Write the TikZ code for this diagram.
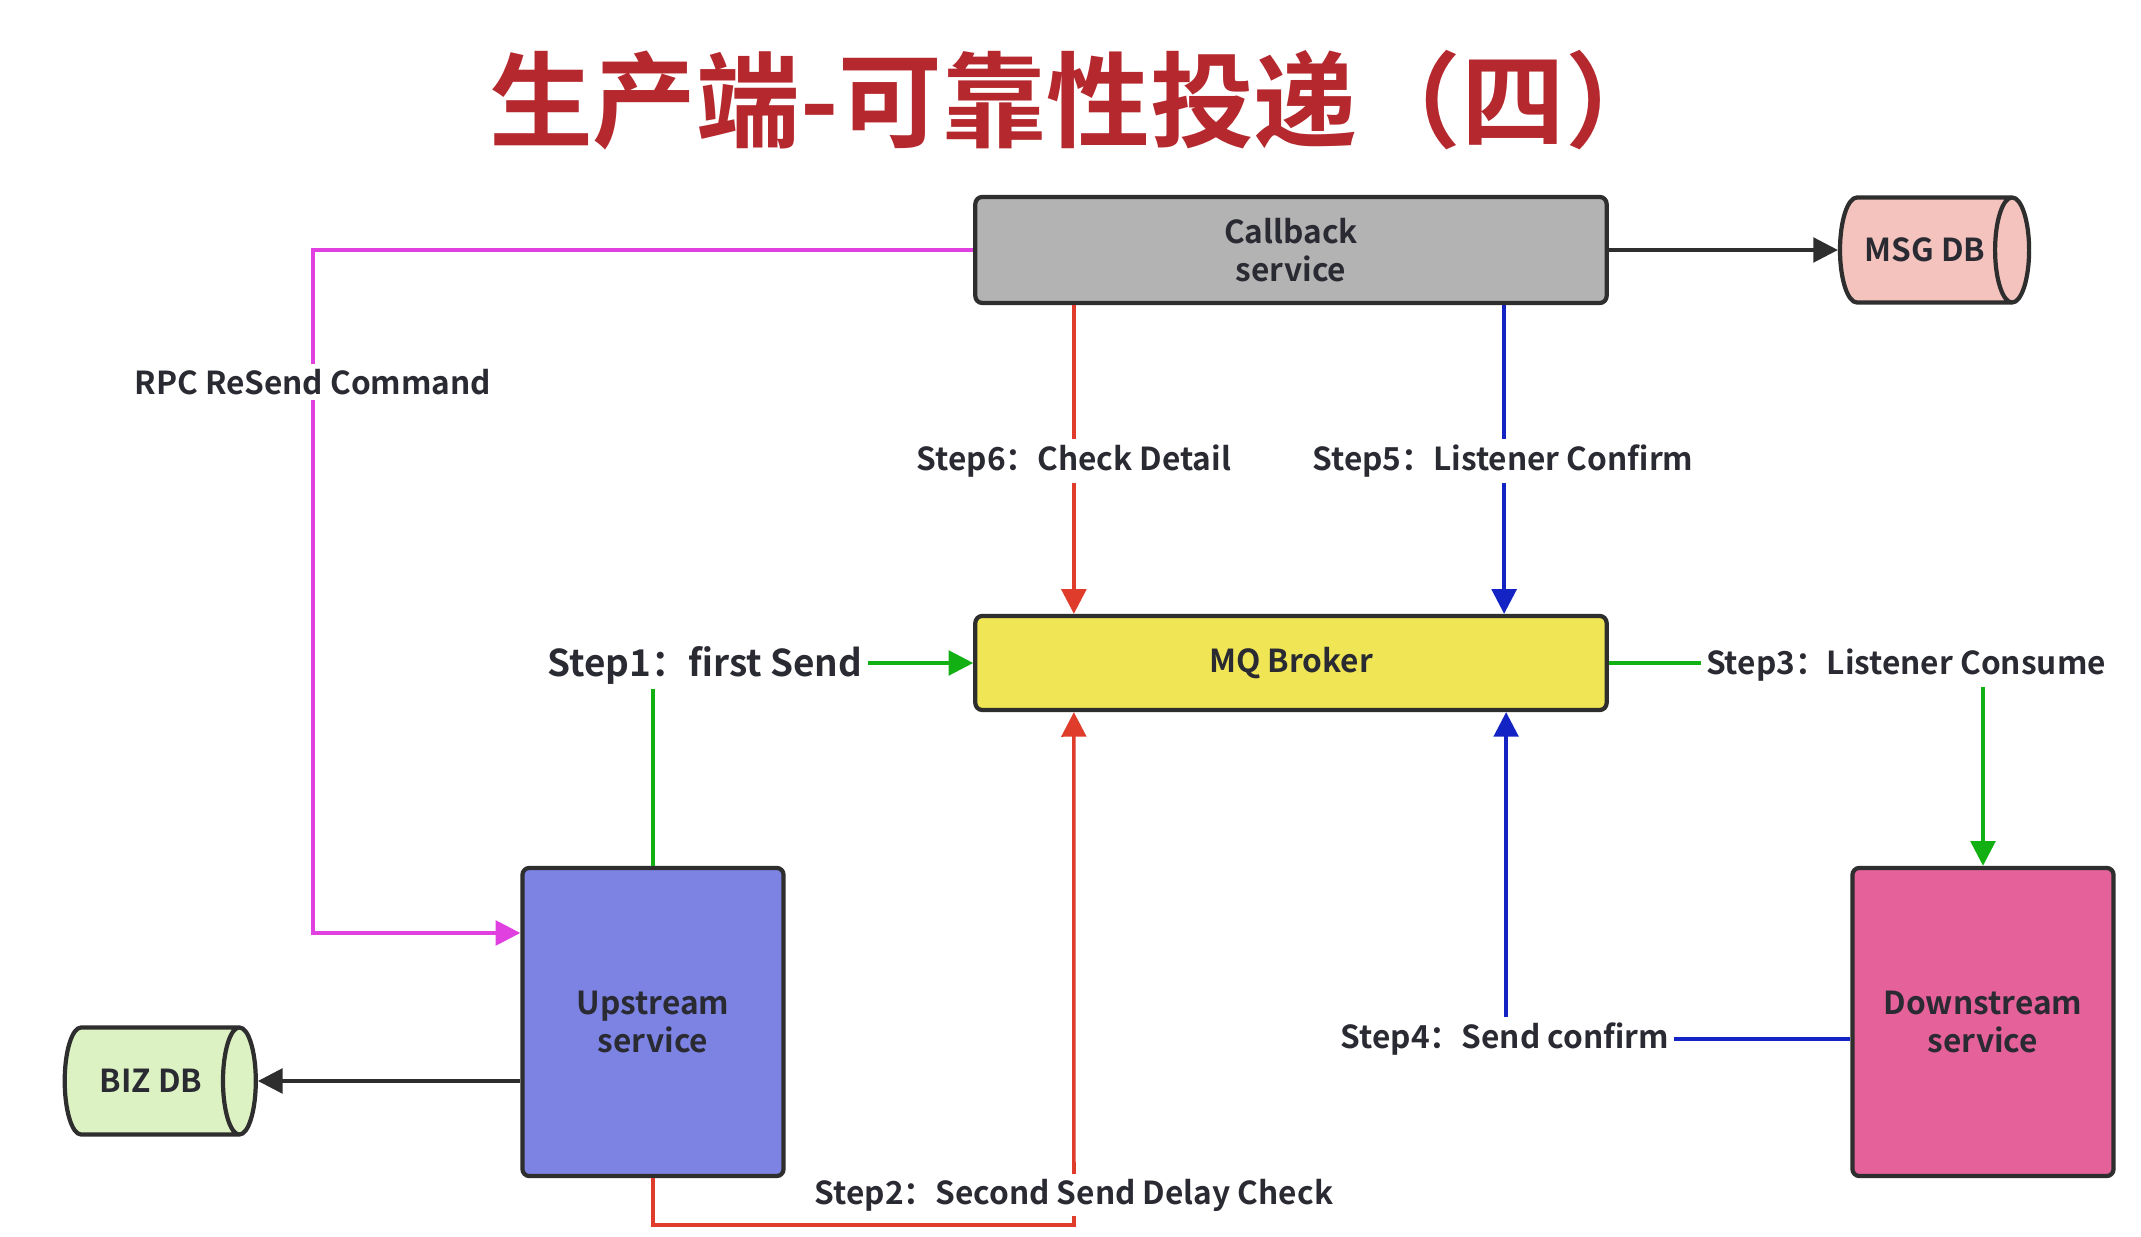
\documentclass[tikz,border=0pt]{standalone}
\usepackage{fontspec}
\setmainfont{Noto Sans CJK SC}[BoldFont={Noto Sans CJK SC Bold}]
\usetikzlibrary{arrows.meta,shapes.geometric}
\definecolor{titlered}{HTML}{B5282D}
\definecolor{txt}{HTML}{2A2A33}
\definecolor{boxline}{HTML}{2E2E2E}
\definecolor{cbgray}{HTML}{B3B3B3}
\definecolor{mqyellow}{HTML}{F0E655}
\definecolor{upblue}{HTML}{7C83E3}
\definecolor{downpink}{HTML}{E4619A}
\definecolor{msgpink}{HTML}{F4C3BD}
\definecolor{bizgreen}{HTML}{DDF2C2}
\definecolor{rpcmagenta}{HTML}{E040E0}
\definecolor{stepred}{HTML}{E03C2C}
\definecolor{stepblue}{HTML}{1424C4}
\definecolor{stepgreen}{HTML}{12B012}

\begin{document}
\begin{tikzpicture}[x=0.01cm,y=-0.01cm,font=\bfseries\fontsize{9}{11}\selectfont]
        \tikzset{box/.style={draw=boxline, line width=1.2pt, rounded corners=2pt,
                 align=center, text=txt, inner sep=0pt},
                 db/.style={cylinder, draw=boxline, line width=1.2pt, shape aspect=1.4,
                 cylinder uses custom fill, text=txt, inner sep=0pt},
                 lbl/.style={fill=white, inner sep=1.5pt, text=txt},
                 tip/.style={-{Triangle[length=7pt,width=7pt]}, line width=1pt}}
        \useasboundingbox[fill=white] (0,0) rectangle (2141,1237);
        \node[text=titlered, font=\bfseries\fontsize{29.5}{34}\selectfont] (title) at (1079,100) {生产端-可靠性投递（四）};
        \node[box, fill=cbgray, minimum width=6.31cm, minimum height=1.06cm] (callback) at (1291,250) {Callback\\service};
        \node[box, fill=mqyellow, minimum width=6.31cm, minimum height=0.94cm] (mq) at (1291,663) {MQ Broker};
        \node[box, fill=upblue, minimum width=2.61cm, minimum height=3.08cm] (up) at (653,1022) {Upstream\\service};
        \node[box, fill=downpink, minimum width=2.61cm, minimum height=3.08cm] (down) at (1983,1022) {Downstream\\service};
        \node[db, cylinder body fill=msgpink, cylinder end fill=msgpink, minimum height=1.89cm, minimum width=1.05cm] (msgdb) at (1925,250) {MSG DB};
        \node[db, cylinder body fill=bizgreen, cylinder end fill=bizgreen, minimum height=1.91cm, minimum width=1.07cm] (bizdb) at (151,1081) {BIZ DB};
        \coordinate (rpcbend) at (313,933);
        \coordinate (s4) at (1506,1039);
        \coordinate (s2) at (1074,1225);
        \draw[tip, boxline] (callback.east) -- (msgdb.west);
        \draw[tip, boxline] (up.west |- bizdb.east) -- (bizdb.east);
        \draw[tip, rpcmagenta] (callback.west) -| (rpcbend) -- (up.west |- rpcbend);
        \draw[tip, stepred] ([xshift=-2.17cm]callback.south) -- ([xshift=-2.17cm]mq.north);
        \draw[tip, stepblue] ([xshift=2.13cm]callback.south) -- ([xshift=2.13cm]mq.north);
        \draw[tip, stepgreen] (up.north) |- (mq.west);
        \draw[tip, stepgreen] (mq.east) -| (down.north);
        \draw[tip, stepblue] (down.west |- s4) -| ([xshift=2.15cm]mq.south);
        \draw[tip, stepred] (up.south) |- (s2) -- ([xshift=-2.17cm]mq.south);
        \node[lbl] (rpclbl) at (313,382) {RPC ReSend Command};
        \node[lbl] (step6) at (1074,461) {Step6：Check Detail};
        \node[lbl] (step5) at (1503,461) {Step5：Listener Confirm};
        \node[lbl, font=\bfseries\fontsize{10.5}{12}\selectfont] (step1) at (705,665) {Step1：first Send};
        \node[lbl] (step3) at (1906,665) {Step3：Listener Consume};
        \node[lbl] (step4) at (1505,1039) {Step4：Send confirm};
        \node[lbl] (step2) at (1074,1195) {Step2：Second Send Delay Check};
\end{tikzpicture}
\end{document}
